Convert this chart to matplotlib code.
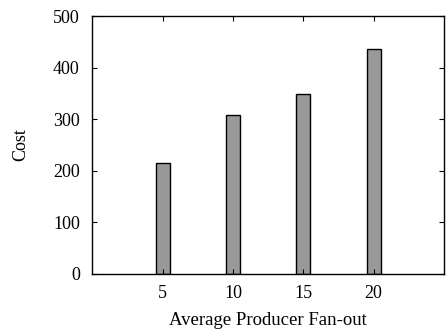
import matplotlib.pyplot as plt

plt.rcParams['font.family'] = ['Liberation Serif', 'DejaVu Serif']
plt.rcParams['font.size'] = 13

fanout = [5, 10, 15, 20]
cost = [215, 308, 348, 436]

fig = plt.figure(figsize=(4.46, 3.3), dpi=100)
ax = fig.add_axes([0.207, 0.170, 0.7885, 0.7815])

ax.bar(fanout, cost, width=1.0, color='#999999', edgecolor='black', linewidth=1.0)

ax.set_xlim(0, 25)
ax.set_ylim(0, 500)
ax.set_xticks(fanout)
ax.set_yticks(range(0, 501, 100))
ax.tick_params(direction='in', length=3.5, width=0.8, top=True, right=True)
ax.tick_params(axis='x', pad=8)
ax.tick_params(axis='y', pad=9)
for s in ax.spines.values():
    s.set_linewidth(1.0)

ax.set_xlabel('Average Producer Fan-out', fontsize=13.5, labelpad=7)
ax.set_ylabel('Cost', labelpad=17)

fig.savefig('out.png', dpi=100)
